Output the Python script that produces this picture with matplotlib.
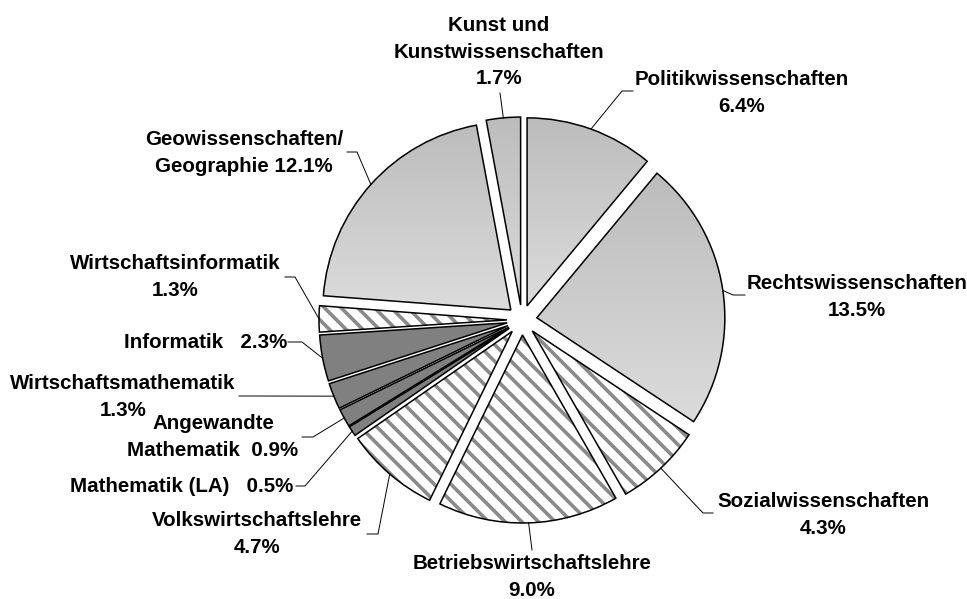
import numpy as np
import matplotlib.pyplot as plt
from matplotlib.patches import Wedge
from matplotlib.colors import LinearSegmentedColormap

W, H = 967, 599

# ---------------- data ----------------
faecher = ["Politikwissenschaften", "Rechtswissenschaften", "Sozialwissenschaften",
           "Betriebswirtschaftslehre", "Volkswirtschaftslehre", "Mathematik (LA)",
           "Angewandte Mathematik", "Wirtschaftsmathematik", "Informatik",
           "Wirtschaftsinformatik", "Geowissenschaften/Geographie",
           "Kunst und Kunstwissenschaften"]
anteile = [6.4, 13.5, 4.3, 9.0, 4.7, 0.5, 0.9, 1.3, 2.3, 1.3, 12.1, 1.7]
beschriftung = ["Politikwissenschaften\n{}", "Rechtswissenschaften\n{}",
                "Sozialwissenschaften\n{}", "Betriebswirtschaftslehre\n{}",
                "Volkswirtschaftslehre\n{}", "Mathematik (LA)   {}",
                "Angewandte\nMathematik  {}", "Wirtschaftsmathematik\n{}",
                "Informatik   {}", "Wirtschaftsinformatik\n{}",
                "Geowissenschaften/\nGeographie {}", "Kunst und\nKunstwissenschaften\n{}"]
fuellung = ["verlauf", "verlauf", "schraffur", "schraffur", "schraffur", "dunkel",
            "dunkel", "dunkel", "dunkel", "schraffur", "verlauf", "verlauf"]

# ---------------- layout (pixels, y from top) ----------------
mitte = (522, 320)
radius = 188
abstand = 15
text_pos = [(742, 93), (857, 297), (823, 515), (532, 577), (257, 534), (182, 486),
            (213, 437), (123, 397), (206, 343), (175, 277), (244, 153), (499, 52)]
leiter_start = [(633, 91), (745, 295), (713, 513), (532, 550), (367, 534), (296, 486),
                (302, 437), (239, 396), (288, 342), (285, 277), (347, 152), (500, 93)]
leiter_knick = [(622, 91), (733, 295), (703, 513), (532, 550), (378, 534), (305, 486),
                (313, 437), (250, 396), (302, 342), (295, 277), (357, 152), (500, 93)]

plt.rcParams['font.family'] = ['Liberation Sans', 'DejaVu Sans']
plt.rcParams['hatch.linewidth'] = 2.6
plt.rcParams['hatch.color'] = '#8a8a8a'

fig = plt.figure(figsize=(W / 100, H / 100), dpi=100)
ax = fig.add_axes([0, 0, 1, 1])

wedges, _ = ax.pie(anteile, startangle=90, counterclock=False,
                   center=(mitte[0], H - mitte[1]), radius=radius,
                   explode=[abstand] * len(anteile),
                   wedgeprops=dict(edgecolor='black', linewidth=1.1, zorder=3))

grau_verlauf = LinearSegmentedColormap.from_list('grau', ['#dcdcdc', '#bcbcbc'])
gradient = np.linspace(0, 1, 256).reshape(-1, 1)

for w, art in zip(wedges, fuellung):
    if art == "verlauf":
        w.set_facecolor('none')
        bb = w.get_path().get_extents()
        im = ax.imshow(gradient, extent=(bb.x0, bb.x1, bb.y0, bb.y1), origin='lower',
                       cmap=grau_verlauf, vmin=0, vmax=1, aspect='auto', zorder=1,
                       interpolation='bilinear')
        im.set_clip_path(w)
    elif art == "schraffur":
        w.set_facecolor('none')
        ax.add_patch(Wedge(w.center, w.r, w.theta1, w.theta2, facecolor='white',
                           edgecolor='#8a8a8a', linewidth=0, hatch='\\\\', zorder=1))
    else:
        w.set_facecolor('#808080')

# labels with leader lines
for w, fmt, wert, tp, ls, lk in zip(wedges, beschriftung, anteile, text_pos,
                                    leiter_start, leiter_knick):
    tm = np.deg2rad(0.5 * (w.theta1 + w.theta2))
    ende = (w.center[0] + w.r * np.cos(tm), w.center[1] + w.r * np.sin(tm))
    ax.plot([ls[0], lk[0], ende[0]], [H - ls[1], H - lk[1], ende[1]],
            color='black', linewidth=0.7, zorder=4)
    ax.text(tp[0], H - tp[1], fmt.format(f"{wert:.1f}%"), ha='center', va='center',
            multialignment='center', fontsize=14.8, fontweight='bold', linespacing=1.52)

ax.set_xlim(0, W)
ax.set_ylim(0, H)
ax.axis('off')

plt.savefig("out.png", dpi=100)
plt.close(fig)
